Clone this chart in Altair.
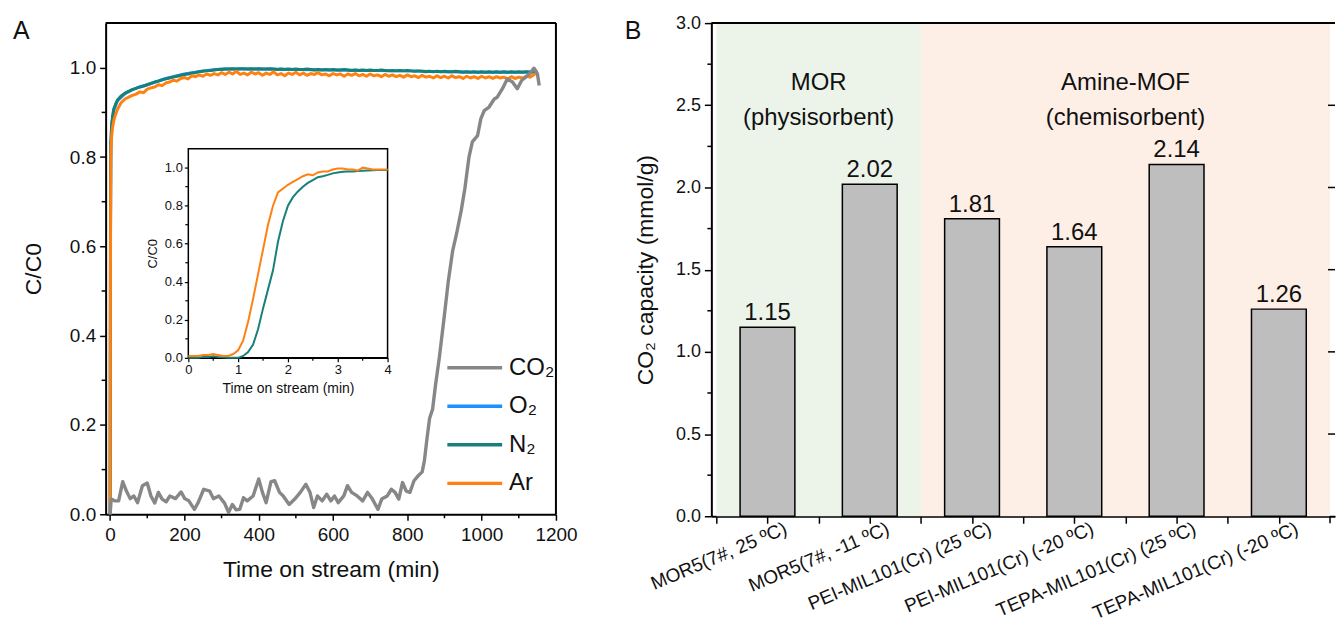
import json
import altair as alt
import pandas as pd

FONT = "Liberation Sans"

# ---------------- Panel A data ----------------
series_names = ["CO\u2082", "O\u2082", "N\u2082", "Ar"]
series_rank = [0, 1, 2, 3]
series_colors = ["#878787", "#1E90FF", "#17807A", "#FF8112"]

grid_early = [0, 1, 2, 4, 7, 10, 15, 20]
grid_main = list(range(30, 1160, 10))

ar_early = [0.0, 0.55, 0.80, 0.845, 0.868, 0.882, 0.896, 0.907]
ar_main = [
    0.922, 0.930, 0.934, 0.938, 0.941, 0.946, 0.944, 0.952, 0.955, 0.957,
    0.962, 0.960, 0.966, 0.968, 0.972, 0.970, 0.976, 0.978, 0.975, 0.982,
    0.980, 0.984, 0.981, 0.986, 0.983, 0.987, 0.984, 0.989, 0.985, 0.990,
    0.986, 0.992, 0.985, 0.988, 0.984, 0.990, 0.986, 0.989, 0.983, 0.988,
    0.985, 0.991, 0.984, 0.987, 0.982, 0.988, 0.985, 0.990, 0.984, 0.988,
    0.983, 0.987, 0.985, 0.989, 0.984, 0.986, 0.982, 0.987, 0.984, 0.986,
    0.981, 0.986, 0.983, 0.987, 0.982, 0.985, 0.981, 0.986, 0.982, 0.984,
    0.980, 0.985, 0.981, 0.984, 0.980, 0.983, 0.979, 0.984, 0.980, 0.982,
    0.978, 0.983, 0.979, 0.981, 0.977, 0.982, 0.978, 0.981, 0.977, 0.982,
    0.978, 0.980, 0.976, 0.981, 0.977, 0.980, 0.976, 0.981, 0.977, 0.980,
    0.976, 0.980, 0.977, 0.979, 0.975, 0.980, 0.976, 0.979, 0.977, 0.981,
    0.979, 0.984, 0.990,
]

n2_early = [0.0, 0.62, 0.83, 0.872, 0.893, 0.908, 0.919, 0.928]
n2_main = [
    0.937, 0.943, 0.947, 0.951, 0.954, 0.957, 0.959, 0.962, 0.965, 0.968,
    0.970, 0.973, 0.975, 0.977, 0.979, 0.981, 0.983, 0.985, 0.986, 0.988,
    0.989, 0.991, 0.992, 0.993, 0.994, 0.995, 0.996, 0.996, 0.997, 0.997,
    0.998, 0.997, 0.998, 0.998, 0.997, 0.998, 0.997, 0.998, 0.997, 0.997,
    0.998, 0.997, 0.996, 0.997, 0.996, 0.997, 0.996, 0.997, 0.996, 0.996,
    0.997, 0.996, 0.995, 0.996, 0.995, 0.996, 0.995, 0.996, 0.995, 0.995,
    0.996, 0.995, 0.994, 0.995, 0.994, 0.995, 0.994, 0.995, 0.994, 0.994,
    0.995, 0.994, 0.993, 0.994, 0.993, 0.994, 0.993, 0.994, 0.993, 0.992,
    0.993, 0.992, 0.991, 0.992, 0.991, 0.992, 0.991, 0.992, 0.991, 0.991,
    0.992, 0.991, 0.990, 0.991, 0.990, 0.991, 0.990, 0.991, 0.990, 0.991,
    0.990, 0.991, 0.990, 0.991, 0.990, 0.991, 0.990, 0.991, 0.990, 0.991,
    0.990, 0.991, 0.992,
]

o2_t = [0, 1, 2, 5, 10, 20, 40, 60, 80, 100, 150, 200, 250, 300, 400, 500,
        600, 700, 800, 900, 1000, 1100, 1150]
o2_v = [0.0, 0.60, 0.83, 0.875, 0.905, 0.926, 0.942, 0.951, 0.957, 0.962,
        0.976, 0.986, 0.993, 0.997, 0.997, 0.996, 0.995, 0.994, 0.993, 0.991,
        0.990, 0.990, 0.991]

co2_t = [0, 3, 12, 23, 34, 44, 54, 64, 74, 87, 100, 110, 120, 130, 140, 151,
         161, 176, 191, 201, 212, 227, 237, 252, 268, 278, 293, 308, 319, 329,
         339, 349, 359, 369, 385, 400, 410, 420, 433, 443, 456, 466, 482, 497,
         512, 527, 538, 548, 558, 571, 583, 594, 604, 614, 629, 639, 650, 665,
         680, 693, 706, 721, 731, 746, 757, 767, 777, 787, 797, 807, 818, 828,
         840, 846, 853, 860, 868, 876, 886, 899, 910, 922, 933, 945, 955, 966,
         975, 989, 998, 1007, 1020, 1034, 1042, 1056, 1069, 1083, 1096, 1108,
         1119, 1132, 1141, 1150, 1155]
co2_v = [0.0, 0.034, 0.030, 0.030, 0.073, 0.052, 0.035, 0.041, 0.026, 0.064,
         0.070, 0.041, 0.025, 0.049, 0.034, 0.028, 0.041, 0.035, 0.050, 0.035,
         0.030, 0.011, 0.026, 0.056, 0.052, 0.035, 0.041, 0.025, 0.004, 0.022,
         0.010, 0.011, 0.037, 0.030, 0.041, 0.079, 0.049, 0.026, 0.073, 0.075,
         0.049, 0.041, 0.022, 0.034, 0.049, 0.067, 0.049, 0.015, 0.041, 0.030,
         0.045, 0.030, 0.041, 0.026, 0.041, 0.064, 0.049, 0.041, 0.030, 0.049,
         0.034, 0.011, 0.034, 0.041, 0.056, 0.049, 0.034, 0.071, 0.052, 0.049,
         0.075, 0.085, 0.095, 0.120, 0.170, 0.215, 0.235, 0.290, 0.350, 0.440,
         0.520, 0.590, 0.630, 0.680, 0.730, 0.800, 0.834, 0.848, 0.886, 0.904,
         0.912, 0.930, 0.934, 0.953, 0.975, 0.968, 0.953, 0.972, 0.979, 0.990,
         0.999, 0.987, 0.960]

inset_t = [i / 10 for i in range(41)]
inset_ar = [
    0.010, 0.010, 0.010, 0.015, 0.015, 0.020, 0.015, 0.010, 0.010, 0.020,
    0.040, 0.090, 0.190, 0.310, 0.440, 0.570, 0.700, 0.800, 0.870, 0.890,
    0.910, 0.925, 0.940, 0.955, 0.965, 0.960, 0.975, 0.980, 0.980, 0.990,
    0.995, 0.995, 0.990, 0.990, 0.985, 1.000, 0.995, 0.990, 0.990, 0.990,
    0.990,
]
inset_n2 = [
    0.000, 0.000, 0.000, 0.005, 0.005, 0.008, 0.005, 0.003, 0.000, 0.000,
    0.000, 0.010, 0.030, 0.070, 0.150, 0.260, 0.360, 0.460, 0.610, 0.720,
    0.800, 0.845, 0.875, 0.900, 0.920, 0.935, 0.950, 0.955, 0.962, 0.970,
    0.975, 0.978, 0.980, 0.980, 0.982, 0.984, 0.985, 0.986, 0.987, 0.988,
    0.988,
]

xA_major = [0, 200, 400, 600, 800, 1000, 1200]
xA_minor = [100, 300, 500, 700, 900, 1100]
yA_major = [0.0, 0.2, 0.4, 0.6, 0.8, 1.0]
yA_minor = [0.1, 0.3, 0.5, 0.7, 0.9]
xI_major = [0, 1, 2, 3, 4]
xI_minor = [0.5, 1.5, 2.5, 3.5]
yI_minor = [0.1, 0.3, 0.5, 0.7, 0.9]

# ---------------- Panel B data ----------------
categories = ["MOR5(7#, 25 \u00baC)", "MOR5(7#, -11 \u00baC)",
              "PEI-MIL101(Cr) (25 \u00baC)", "PEI-MIL101(Cr) (-20 \u00baC)",
              "TEPA-MIL101(Cr) (25 \u00baC)", "TEPA-MIL101(Cr) (-20 \u00baC)"]
capacities = [1.15, 2.02, 1.81, 1.64, 2.14, 1.26]
group_labels = ["MOR\n(physisorbent)", "Amine-MOF\n(chemisorbent)"]
group_start = [-0.5, 1.5]
group_end = [1.5, 5.5]
group_center = [0.5, 3.5]
group_fill = ["#ECF4EA", "#FDEFE6"]
xB_ticks = [-0.5, 0, 0.5, 1, 1.5, 2, 2.5, 3, 3.5, 4, 4.5, 5]
xB_end_tick = [5.5]
yB_major = [0.0, 0.5, 1.0, 1.5, 2.0, 2.5, 3.0]
yB_minor = [0.25, 0.75, 1.25, 1.75, 2.25, 2.75]
yB_right = [0.5, 1.0, 1.5, 2.0, 2.5]

# ---------------- sizes ----------------
WA, HA = 452, 493
WB, HB = 626, 495
IN_L, IN_R, IN_B, IN_T = 83, 283, 336, 126
LEG_TOP, LEG_BOTTOM = 346, 462
LEG_X0, LEG_X1 = 343, 398

# ---------------- Panel A ----------------
sxA = alt.Scale(domain=[-12, 1200], nice=False, zero=False)
syA = alt.Scale(domain=[0, 1.1], nice=False, zero=False)
x_main = alt.X("t:Q", scale=sxA, axis=alt.Axis(
    orient="bottom", values=xA_major, format="d", title="Time on stream (min)",
    labelFontSize=19, titleFontSize=23, tickSize=6, labelPadding=5,
    titlePadding=14, labelFlush=False, labelOverlap=False))
y_main = alt.Y("v:Q", scale=syA, axis=alt.Axis(
    orient="left", values=yA_major, format=".1f", title="C/C0",
    labelFontSize=19, titleFontSize=23, tickSize=6, labelPadding=4,
    titlePadding=24, labelFlush=False, labelOverlap=False))

color = alt.Color("s:N", scale=alt.Scale(domain=series_names, range=series_colors),
                  legend=None)


def df_series(name, t, v, tcol="t", vcol="v"):
    return pd.DataFrame({tcol: t, vcol: v, "s": name})


def main_line(df, w=3):
    return alt.Chart(df).mark_line(strokeWidth=w, strokeJoin="round").encode(
        x=x_main, y=y_main, color=color)


o2_df = df_series(series_names[1], o2_t, o2_v)
n2_df = df_series(series_names[2], grid_early + grid_main, n2_early + n2_main)
ar_df = df_series(series_names[3], grid_early + grid_main, ar_early + ar_main)
co2_df = df_series(series_names[0], co2_t, co2_v)

minor_x_A = alt.Chart(pd.DataFrame({"t": xA_minor})).mark_rule(
    color="black", strokeWidth=1.5).encode(x=x_main, y=alt.value(HA), y2=alt.value(HA + 4))
minor_y_A = alt.Chart(pd.DataFrame({"v": yA_minor})).mark_rule(
    color="black", strokeWidth=1.5).encode(y=y_main, x=alt.value(0), x2=alt.value(-4))
frame_A_top = alt.Chart(pd.DataFrame({"a": [0]})).mark_rule(
    color="black", strokeWidth=2).encode(x=alt.value(0), x2=alt.value(WA), y=alt.value(0))
frame_A_right = alt.Chart(pd.DataFrame({"a": [0]})).mark_rule(
    color="black", strokeWidth=2).encode(x=alt.value(WA), y=alt.value(0), y2=alt.value(HA))
letter_A = alt.Chart(pd.DataFrame({"lab": ["A"]})).mark_text(
    font=FONT, fontSize=25, align="left", baseline="middle", color="#111").encode(
    text="lab:N", x=alt.value(-93), y=alt.value(8))

main_group = alt.layer(frame_A_top, frame_A_right, minor_x_A, minor_y_A,
                       main_line(o2_df), main_line(n2_df), main_line(ar_df),
                       main_line(co2_df, 3.4), letter_A)

# inset
sxI = alt.Scale(domain=[0, 4], range=[IN_L, IN_R], nice=False, zero=False)
syI = alt.Scale(domain=[0, 1.1], range=[IN_B, IN_T], nice=False, zero=False)
x_in = alt.X("t2:Q", scale=sxI, axis=alt.Axis(
    orient="bottom", offset=-(HA - IN_B), values=xI_major, format="d",
    title="Time on stream (min)", labelFontSize=13, titleFontSize=14, tickSize=4,
    labelPadding=2, titlePadding=5, domainWidth=1.5, tickWidth=1.2,
    labelFlush=False, labelOverlap=False))
y_in = alt.Y("v2:Q", scale=syI, axis=alt.Axis(
    orient="left", offset=-IN_L, values=yA_major, format=".1f", title="C/C0",
    labelFontSize=13, titleFontSize=13, tickSize=4, labelPadding=2,
    titlePadding=5, domainWidth=1.5, tickWidth=1.2, labelFlush=False,
    labelOverlap=False))

inset_frame = alt.Chart(pd.DataFrame({"t2": [xI_major[0]], "t2e": [xI_major[-1]],
                                      "v2": [0.0], "v2e": [1.1]})).mark_rect(
    fill="white", stroke="black", strokeWidth=1.5).encode(
    x=x_in, x2="t2e:Q", y=y_in, y2="v2e:Q")
inset_minor_x = alt.Chart(pd.DataFrame({"t2": xI_minor})).mark_rule(
    color="black", strokeWidth=1.2).encode(x=x_in, y=alt.value(IN_B), y2=alt.value(IN_B + 3))
inset_minor_y = alt.Chart(pd.DataFrame({"v2": yI_minor})).mark_rule(
    color="black", strokeWidth=1.2).encode(y=y_in, x=alt.value(IN_L), x2=alt.value(IN_L - 3))
inset_n2_df = df_series(series_names[2], inset_t, inset_n2, "t2", "v2")
inset_ar_df = df_series(series_names[3], inset_t, inset_ar, "t2", "v2")


def inset_line(df):
    return alt.Chart(df).mark_line(strokeWidth=2).encode(x=x_in, y=y_in, color=color)


inset_group = alt.layer(inset_frame, inset_minor_x, inset_minor_y,
                        inset_line(inset_n2_df), inset_line(inset_ar_df))

# legend (drawn as marks; rows spread by a linear scale over the series order)
leg_df = pd.DataFrame({"s": series_names, "rank": series_rank})
leg_y = alt.Y("rank:Q", scale=alt.Scale(domain=[series_rank[0], series_rank[-1]],
                                        range=[LEG_TOP, LEG_BOTTOM], nice=False,
                                        zero=False), axis=None)
leg_lines = alt.Chart(leg_df).mark_rule(strokeWidth=3.5).encode(
    y=leg_y, x=alt.value(LEG_X0), x2=alt.value(LEG_X1), color=color)
leg_text = alt.Chart(leg_df).mark_text(font=FONT, fontSize=24, align="left",
                                       baseline="middle", color="#111").encode(
    y=leg_y, x=alt.value(LEG_X1 + 7), text="s:N")
legend_group = alt.layer(leg_lines, leg_text)

panel_A = alt.layer(main_group, inset_group, legend_group).resolve_scale(
    x="independent", y="independent").properties(width=WA, height=HA)

# ---------------- Panel B ----------------
sxB = alt.Scale(domain=[-0.5, 5.5], nice=False, zero=False)
syB = alt.Scale(domain=[0, 3], nice=False, zero=False)
label_expr = ("datum.value == floor(datum.value) ? " + json.dumps(categories)
              + "[datum.value] : ''")
xB = alt.X("idx:Q", scale=sxB, axis=alt.Axis(
    values=xB_ticks, labelExpr=label_expr, title=None, labelAngle=-23,
    labelAlign="right", labelBaseline="middle", labelFontSize=19, tickSize=7,
    labelPadding=4, labelOffset=18, labelLimit=500,
    labelOverlap=False, labelFlush=False))
yB = alt.Y("cap:Q", scale=syB, axis=alt.Axis(
    values=yB_major, format=".1f", title="CO\u2082 capacity (mmol/g)",
    labelFontSize=18, titleFontSize=23, tickSize=7, labelPadding=4,
    titlePadding=18, labelFlush=False, labelOverlap=False))

dfB = pd.DataFrame({"idx": list(range(len(categories))), "cat": categories,
                    "cap": capacities})

bg = alt.Chart(pd.DataFrame({"idx": group_start, "idx_end": group_end,
                             "grp": group_labels})).mark_rect().encode(
    x=xB, x2="idx_end:Q",
    y=alt.value(0), y2=alt.value(HB),
    fill=alt.Fill("grp:N", scale=alt.Scale(domain=group_labels, range=group_fill),
                  legend=None))
bars = alt.Chart(dfB).mark_bar(size=55, color="#BEBEBE", stroke="black",
                               strokeWidth=1.5).encode(x=xB, y=yB)
vals = alt.Chart(dfB).mark_text(font=FONT, fontSize=24, dy=-14, baseline="middle",
                                color="#111").encode(
    x=xB, y=yB, text=alt.Text("cap:Q", format=".2f"))
groups = alt.Chart(pd.DataFrame({"idx": group_center, "lab": group_labels})).mark_text(
    font=FONT, fontSize=24, lineBreak="\n", lineHeight=35, baseline="middle",
    color="#111").encode(x=xB, y=alt.value(60), text="lab:N")
end_tick_B = alt.Chart(pd.DataFrame({"idx": xB_end_tick})).mark_rule(
    color="black", strokeWidth=1.5).encode(x=xB, y=alt.value(HB), y2=alt.value(HB + 7))
minor_y_B = alt.Chart(pd.DataFrame({"cap": yB_minor})).mark_rule(
    color="black", strokeWidth=1.5).encode(y=yB, x=alt.value(0), x2=alt.value(-4))
right_ticks_B = alt.Chart(pd.DataFrame({"cap": yB_right})).mark_rule(
    color="black", strokeWidth=1.5).encode(y=yB, x=alt.value(WB - 7), x2=alt.value(WB))
top_B = alt.Chart(pd.DataFrame({"a": [0]})).mark_rule(
    color="black", strokeWidth=2).encode(x=alt.value(0), x2=alt.value(WB), y=alt.value(0))
letter_B = alt.Chart(pd.DataFrame({"lab": ["B"]})).mark_text(
    font=FONT, fontSize=25, align="left", baseline="middle", color="#111").encode(
    text="lab:N", x=alt.value(-87), y=alt.value(8))

panel_B = alt.layer(bg, bars, vals, groups, end_tick_B, minor_y_B, right_ticks_B,
                    top_B, letter_B).properties(width=WB, height=HB)

chart = alt.hconcat(panel_A, panel_B, spacing=156, bounds="flush").properties(
    padding={"left": 5, "top": 5, "right": 0, "bottom": 0}
).configure_view(stroke=None).configure_axis(
    grid=False, domainColor="black", domainWidth=2, tickColor="black",
    tickWidth=1.5, labelColor="#111", titleColor="#111", labelFont=FONT,
    titleFont=FONT, titleFontWeight="normal")

chart.save("out.html", embed_options={"renderer": "svg", "actions": False})
